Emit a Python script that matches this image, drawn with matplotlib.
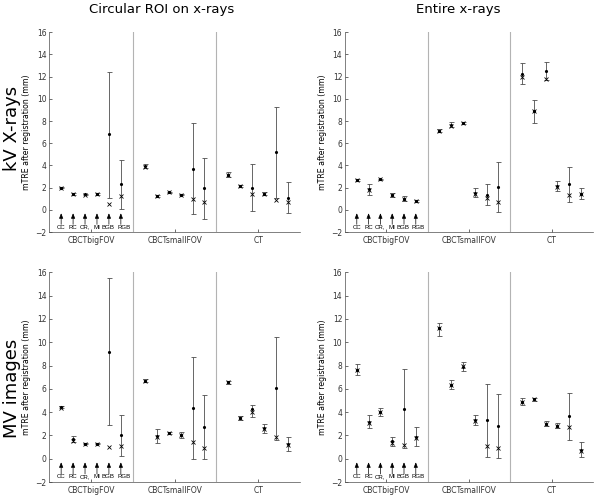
import numpy as np
import matplotlib
matplotlib.use('Agg')
import matplotlib.pyplot as plt

# x positions: 6 methods x 3 reference images, gap between groups
pos = [1, 2, 3, 4, 5, 6, 8, 9, 10, 11, 12, 13, 15, 16, 17, 18, 19, 20]
groups = ['CBCTbigFOV', 'CBCTsmallFOV', 'CT']
methods = ['CC', 'RC', 'CR,', 'MI', 'BGB', 'RGB']
col_titles = ['Circular ROI on x-rays', 'Entire x-rays']
row_titles = ['kV X-rays', 'MV images']

# kV, circular ROI
kv_roi_mean = [2.0, 1.45, 1.4, 1.45, 6.8, 2.3, 3.95, 1.25, 1.6, 1.35, 3.7, 1.95, 3.15, 2.15, 2.0, 1.45, 5.2, 1.1]
kv_roi_lo = [1.93, 1.35, 1.35, 1.38, 1.1, 0.1, 3.75, 1.18, 1.55, 1.3, -0.4, -0.85, 2.95, 2.05, -0.1, 1.3, 1.1, -0.3]
kv_roi_hi = [2.05, 1.55, 1.45, 1.52, 12.4, 4.5, 4.15, 1.32, 1.65, 1.4, 7.8, 4.7, 3.4, 2.25, 4.1, 1.6, 9.3, 2.5]
kv_roi_med = [1.95, 1.4, 1.38, 1.42, 0.55, 1.25, 3.85, 1.22, 1.6, 1.33, 1.0, 0.75, 3.1, 2.12, 1.4, 1.42, 0.85, 0.7]

# kV, entire image
kv_full_mean = [2.7, 1.85, 2.75, 1.35, 1.0, 0.8, 7.15, 7.65, 7.85, 1.55, 1.3, 2.1, 12.2, 8.9, 12.5, 2.15, 2.3, 1.45]
kv_full_lo = [2.62, 1.35, 2.7, 1.2, 0.8, 0.73, 7.05, 7.45, 7.75, 1.2, 0.4, -0.15, 11.3, 7.8, 11.7, 1.7, 0.7, 1.0]
kv_full_hi = [2.78, 2.3, 2.8, 1.5, 1.25, 0.87, 7.25, 7.95, 7.95, 1.95, 2.3, 4.35, 13.2, 9.9, 13.35, 2.6, 3.9, 1.95]
kv_full_med = [2.7, 1.75, 2.75, 1.3, 0.95, 0.8, 7.15, 7.6, 7.85, 1.4, 1.05, 0.75, 12.0, 8.9, 11.75, 2.1, 1.35, 1.4]

# MV, circular ROI
mv_roi_mean = [4.45, 1.7, 1.28, 1.3, 9.2, 2.0, 6.7, 1.95, 2.2, 2.05, 4.35, 2.7, 6.55, 3.5, 4.25, 2.6, 6.05, 1.3]
mv_roi_lo = [4.35, 1.4, 1.25, 1.25, 2.9, 0.2, 6.55, 1.35, 2.13, 1.8, -0.05, -0.05, 6.4, 3.35, 3.55, 2.25, 1.65, 0.7]
mv_roi_hi = [4.55, 1.95, 1.32, 1.35, 15.5, 3.75, 6.85, 2.55, 2.27, 2.3, 8.7, 5.5, 6.7, 3.65, 4.6, 2.95, 10.45, 1.85]
mv_roi_med = [4.4, 1.55, 1.25, 1.28, 1.0, 1.1, 6.7, 1.85, 2.2, 2.0, 1.4, 0.95, 6.55, 3.5, 4.05, 2.55, 1.85, 1.2]

# MV, entire image
mv_full_mean = [7.65, 3.15, 4.0, 1.5, 4.25, 1.85, 11.2, 6.35, 7.9, 3.35, 3.3, 2.8, 4.9, 5.1, 3.0, 2.85, 3.65, 0.75]
mv_full_lo = [7.2, 2.6, 3.7, 1.1, 0.9, 1.1, 10.55, 5.95, 7.55, 2.9, 0.15, 0.1, 4.6, 5.0, 2.8, 2.6, 1.6, 0.15]
mv_full_hi = [8.1, 3.8, 4.35, 1.85, 7.7, 2.7, 11.65, 6.75, 8.3, 3.8, 6.4, 5.55, 5.2, 5.2, 3.25, 3.1, 5.65, 1.4]
mv_full_med = [7.6, 3.05, 4.0, 1.35, 1.15, 1.75, 11.2, 6.3, 7.95, 3.25, 1.1, 0.9, 4.85, 5.1, 2.95, 2.85, 2.7, 0.7]

panels = [
    (kv_roi_mean, kv_roi_lo, kv_roi_hi, kv_roi_med),
    (kv_full_mean, kv_full_lo, kv_full_hi, kv_full_med),
    (mv_roi_mean, mv_roi_lo, mv_roi_hi, mv_roi_med),
    (mv_full_mean, mv_full_lo, mv_full_hi, mv_full_med),
]
rects = [
    [0.082, 0.532, 0.418, 0.403],
    [0.575, 0.532, 0.413, 0.403],
    [0.082, 0.028, 0.418, 0.423],
    [0.575, 0.028, 0.413, 0.423],
]

fig = plt.figure(figsize=(6, 4.96), dpi=100)

for k, (mean, lo, hi, med) in enumerate(panels):
    ax = fig.add_axes(rects[k])
    mean = np.array(mean)
    err = [mean - np.array(lo), np.array(hi) - mean]
    ax.errorbar(pos, mean, yerr=err, fmt='.', color='k', ms=2.5,
                ecolor='0.3', elinewidth=0.6, capsize=1.8, capthick=0.6)
    ax.plot(pos, med, 'x', color='k', ms=3, mew=0.6)
    for sx in [7, 14]:
        ax.axvline(sx, color='0.7', lw=0.8)
    for i in range(6):
        ax.annotate('', xy=(pos[i], -0.3), xytext=(pos[i], -1.3),
                    arrowprops=dict(arrowstyle='-|>,head_length=0.3,head_width=0.12',
                                    color='k', lw=0.5, shrinkA=0, shrinkB=0))
        # last label sits a bit to the right, as in the original
        dx = 2.0 if i == 5 else (-0.6 if i == 4 else 0)
        ax.annotate(methods[i], xy=(pos[i], -1.56), xytext=(dx, 0),
                    textcoords='offset points', ha='center', va='center',
                    fontsize=4.4, family='Liberation Sans')
    ax.set_xlim(0, 21)
    ax.set_ylim(-2, 16)
    ax.set_yticks(np.arange(-2, 17, 2))
    ax.set_xticks([3.5, 10.5, 17.5])
    ax.set_xticklabels(groups)
    ax.tick_params(direction='in', length=2, width=0.5, labelsize=5.5, pad=2, colors='0.2')
    ax.tick_params(axis='x', pad=3)
    ax.set_ylabel('mTRE after registration (mm)', fontsize=5.6, labelpad=3)
    for s in ['top', 'right']:
        ax.spines[s].set_visible(False)
    for s in ['left', 'bottom']:
        ax.spines[s].set_linewidth(0.5)
        ax.spines[s].set_color('0.3')

fig.text(162 / 600, 1 - 10 / 496, col_titles[0], ha='center', va='center', fontsize=9.5)
fig.text(458 / 600, 1 - 10 / 496, col_titles[1], ha='center', va='center', fontsize=9.5)
fig.text(12 / 600, 1 - 128 / 496, row_titles[0], ha='center', va='center', fontsize=13, rotation=90)
fig.text(12 / 600, 1 - 388 / 496, row_titles[1], ha='center', va='center', fontsize=13, rotation=90)

plt.savefig('out.png', dpi=100)
